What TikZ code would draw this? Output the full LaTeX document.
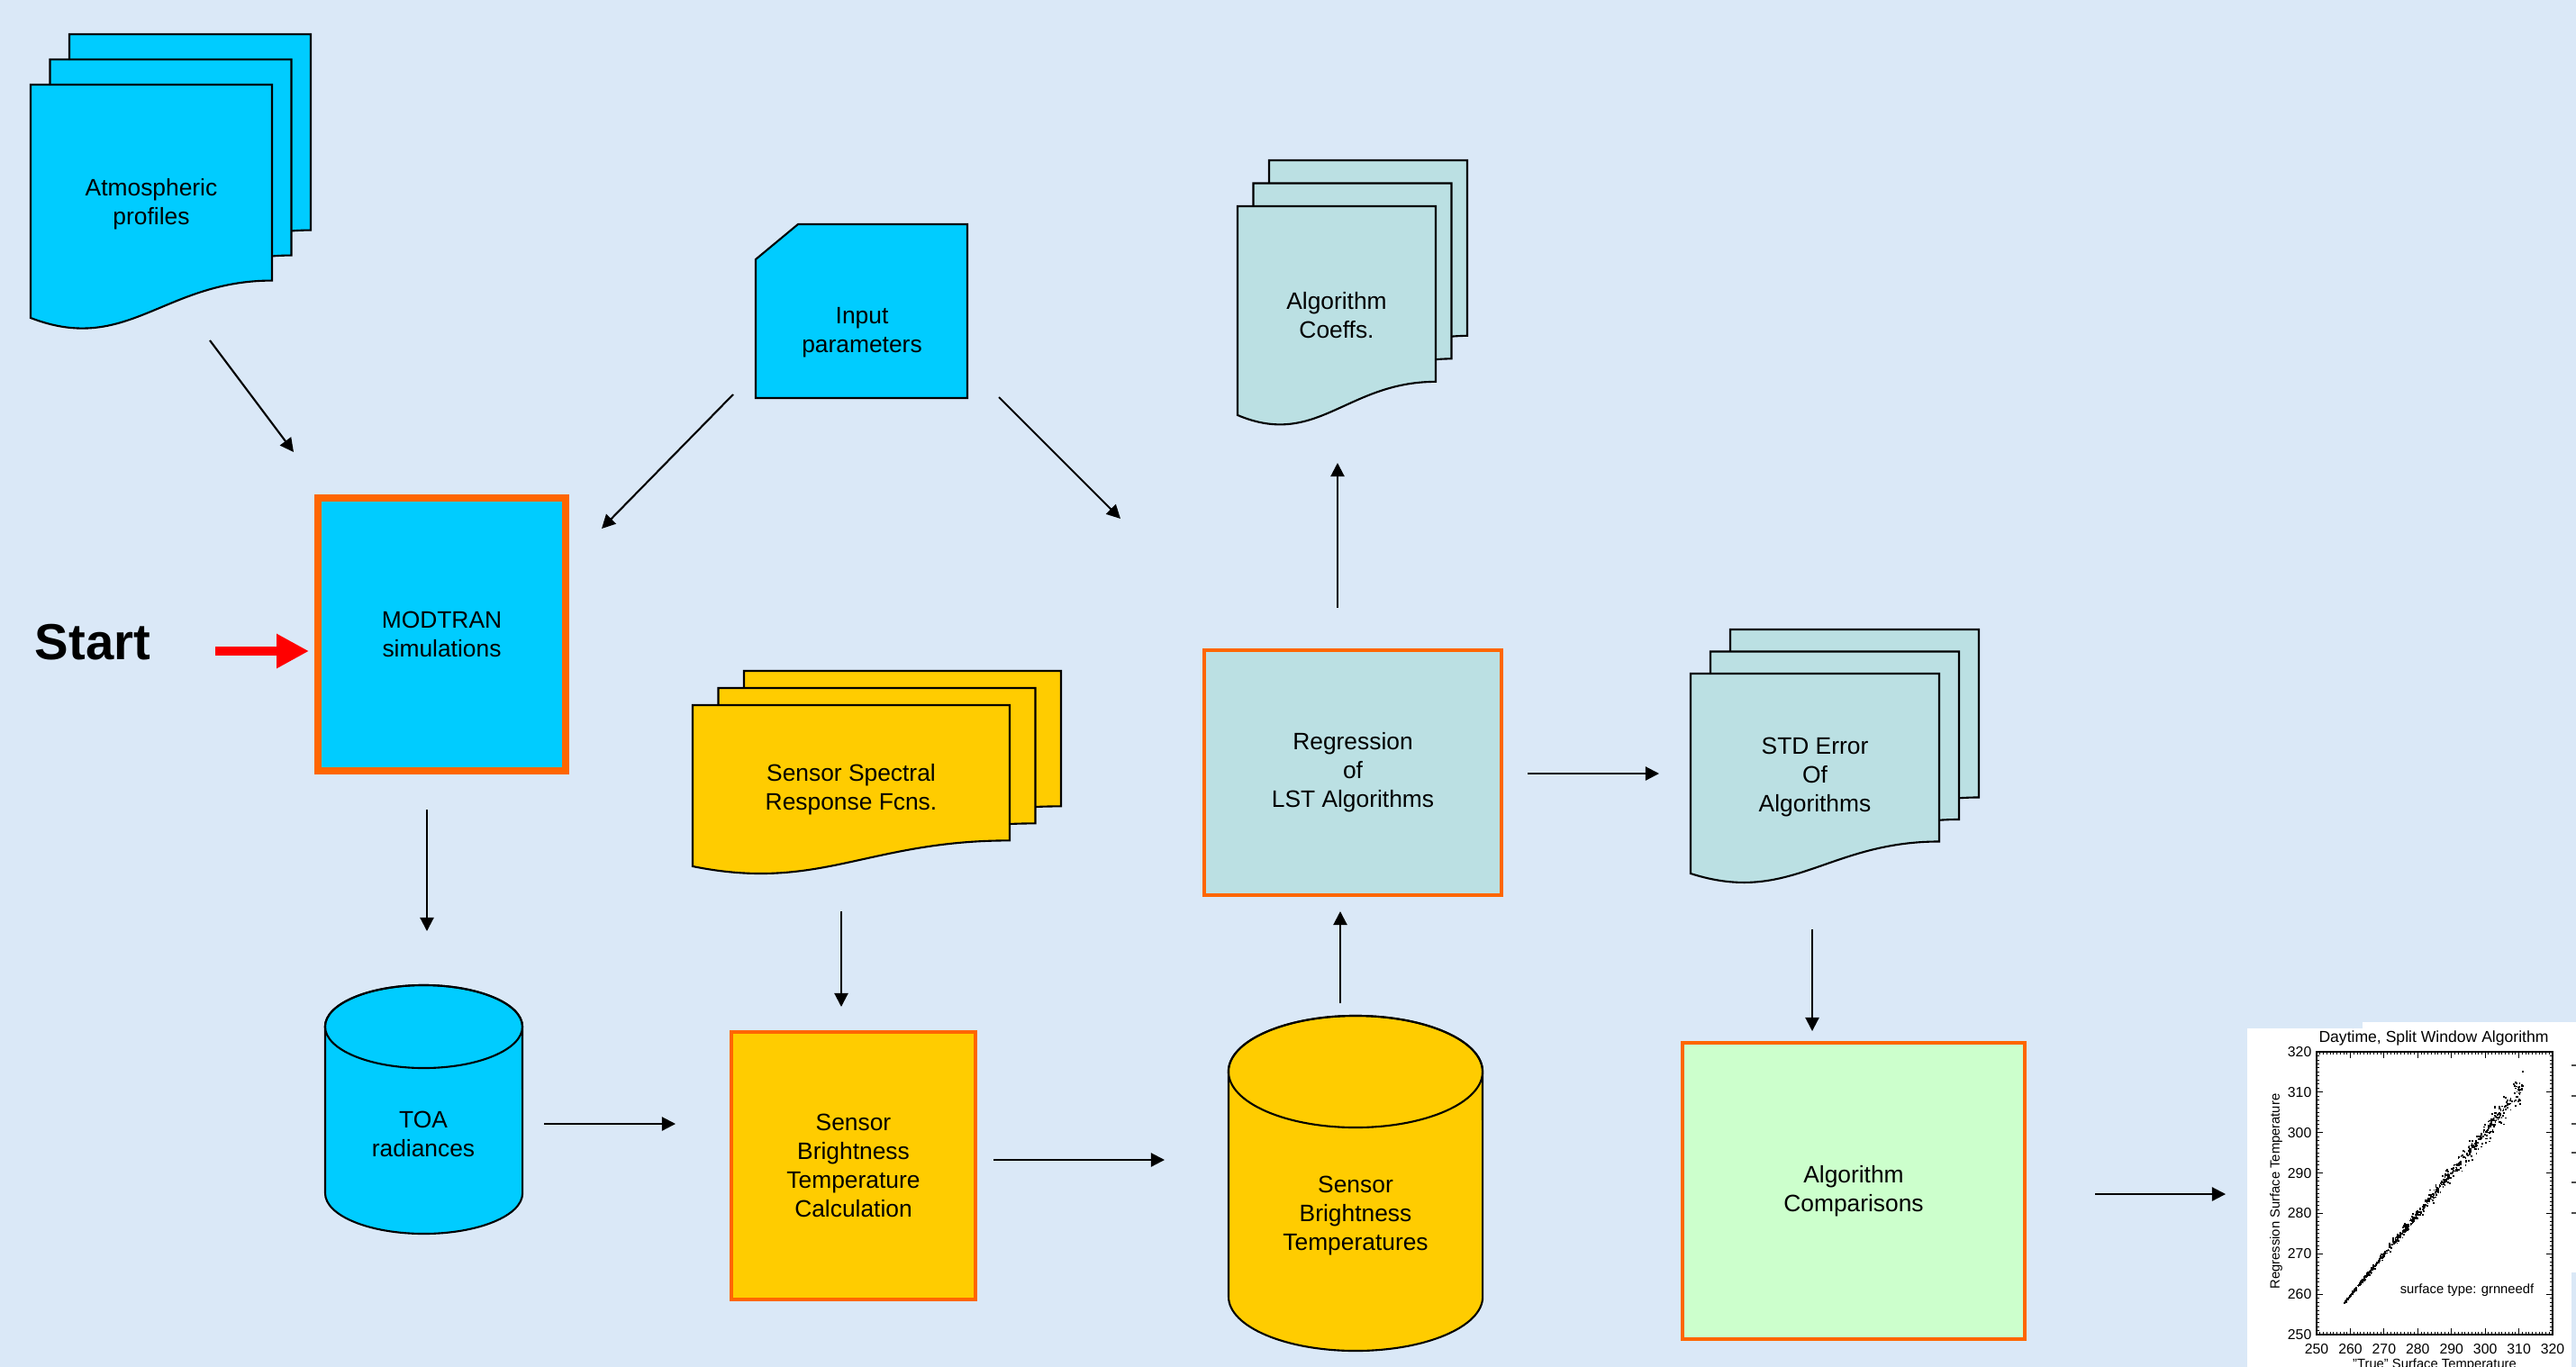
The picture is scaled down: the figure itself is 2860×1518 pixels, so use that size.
\documentclass[tikz,border=0pt]{standalone}
\usepackage{fontspec}
\setmainfont{Liberation Sans}
\usetikzlibrary{arrows.meta,calc}
\definecolor{bgblue}{RGB}{218,232,247}
\definecolor{cyanfill}{RGB}{0,204,255}
\definecolor{yellowfill}{RGB}{255,204,0}
\definecolor{tealfill}{RGB}{187,224,227}
\definecolor{greenfill}{RGB}{204,255,204}
\definecolor{orangeline}{RGB}{255,102,0}
\definecolor{startred}{RGB}{255,0,0}
\tikzset{
  sheetline/.style={draw=black, line width=0.6pt},
  txt/.style={align=center, font=\fontsize{7.5}{9.1}\selectfont, inner sep=0pt},
  procbox/.style={draw=orangeline, line width=1.2pt, align=center, inner sep=0pt,
                  font=\fontsize{7.5}{9.1}\selectfont},
  arr/.style={line width=0.6pt, -{Triangle[length=4.3pt,width=4.3pt]}},
  ticklab/.style={font=\fontsize{4.5}{5}\selectfont, inner sep=0pt},
  plottxt/.style={font=\fontsize{4.2}{5}\selectfont, inner sep=0pt}
}
\newcommand{\docsheet}[5]{%
  \filldraw[sheetline, fill=#5] (#1,#2) -- ({#1+#3},#2) -- ({#1+#3},{#2+0.84*#4})
    .. controls ({#1+0.55*#3},{#2+0.84*#4}) and ({#1+0.4*#3},{#2+1.16*#4}) .. (#1,{#2+#4}) -- cycle;}
\newcommand{\docstack}[7]{%
  \pgfmathsetmacro{\dsLb}{#1+2*(#5)}\pgfmathsetmacro{\dsTb}{#2+2*(#6)}%
  \pgfmathsetmacro{\dsLm}{#1+(#5)}\pgfmathsetmacro{\dsTm}{#2+(#6)}%
  \docsheet{\dsLb}{\dsTb}{#3}{#4}{#7}%
  \docsheet{\dsLm}{\dsTm}{#3}{#4}{#7}%
  \docsheet{#1}{#2}{#3}{#4}{#7}}
\begin{document}
\begin{tikzpicture}[x=0.01cm, y=-0.01cm]
\useasboundingbox (0,0) rectangle (2860,1518);
\clip (0,0) rectangle (2860,1518);
\fill[bgblue] (0,0) rectangle (2860,1518);

% ---- document stacks ----
\docstack{34}{94}{268}{259}{21.5}{-28}{cyanfill}
\node[txt] (atm) at (168,227) {Atmospheric\\profiles};

\docstack{1374}{229}{220}{232}{17.5}{-25.5}{tealfill}
\node[txt] (coef) at (1484,350) {Algorithm\\Coeffs.};

\docstack{769}{783}{352}{179}{28.5}{-19}{yellowfill}
\node[txt] (ssr) at (945,877) {Sensor Spectral\\Response Fcns.};

\docstack{1877}{748}{276}{222}{22}{-24.5}{tealfill}
\node[txt] (std) at (2015,863) {STD Error\\Of\\Algorithms};

% ---- manual input ----
\filldraw[sheetline, fill=cyanfill] (839,288) -- (886,249) -- (1074,249) -- (1074,442) -- (839,442) -- cycle;
\node[txt] (inp) at (957,369) {Input\\parameters};

% ---- process boxes ----
\node[procbox, line width=2.3pt, fill=cyanfill, minimum width=2.75cm, minimum height=3.03cm]
  (modtran) at (490.5,704.5) {MODTRAN\\simulations};
\node[procbox, fill=tealfill, minimum width=3.30cm, minimum height=2.72cm]
  (reg) at (1502,858) {Regression\\of\\LST Algorithms};
\node[procbox, fill=yellowfill, minimum width=2.71cm, minimum height=2.97cm]
  (sbtc) at (947.5,1294.5) {Sensor\\Brightness\\Temperature\\Calculation};
\node[procbox, fill=greenfill, minimum width=3.80cm, minimum height=3.29cm]
  (cmp) at (2058,1322.5) {Algorithm\\Comparisons};

% ---- cylinders ----
\filldraw[sheetline, fill=cyanfill] (361,1140) -- (361,1325)
  arc[start angle=180, end angle=360, x radius=1.095cm, y radius=0.45cm] -- (580,1140)
  arc[start angle=0, end angle=180, x radius=1.095cm, y radius=0.46cm] -- cycle;
\draw[sheetline] (470.5,1140) ellipse [x radius=1.095cm, y radius=0.46cm];
\node[txt] (toa) at (470,1259) {TOA\\radiances};

\filldraw[sheetline, fill=yellowfill] (1364,1190) -- (1364,1440)
  arc[start angle=180, end angle=360, x radius=1.41cm, y radius=0.60cm] -- (1646,1190)
  arc[start angle=0, end angle=180, x radius=1.41cm, y radius=0.62cm] -- cycle;
\draw[sheetline] (1505,1190) ellipse [x radius=1.41cm, y radius=0.62cm];
\node[txt] (sbt) at (1505,1350) {Sensor\\Brightness\\Temperatures};

% ---- Start ----
\node[font=\bfseries\fontsize{16}{19}\selectfont, inner sep=0pt] (start) at (103,713) {Start};
\draw[startred, line width=3.1pt, -{Triangle[length=10.2pt,width=10.2pt]}]
  ($(modtran)+(-251.5,18.5)$) -- ($(modtran)+(-147.5,18.5)$);

% ---- plot ----
\fill[white] (2623,1135) rectangle (2860,1413);
\foreach \yy in {1183,1217,1248,1280,1313,1347}
  \draw[line width=0.3pt, black!70] (2855,\yy) -- (2860,\yy);
\node[fill=white, inner sep=0pt, minimum width=3.6cm, minimum height=3.76cm] (plot) at (2675,1330) {};
\draw[line width=0.4pt] (2572,1168) rectangle (2834,1482);
\foreach \v in {0,...,70}{
  \pgfmathsetmacro{\tlen}{ifthenelse(mod(\v,10)==0,7,3)}
  \pgfmathsetmacro{\px}{2572+\v*3.743}
  \pgfmathsetmacro{\py}{1482-\v*4.486}
  \draw[line width=0.25pt] (\px,1482) -- (\px,{1482-\tlen});
  \draw[line width=0.25pt] (\px,1168) -- (\px,{1168+\tlen});
  \draw[line width=0.25pt] (2572,\py) -- ({2572+\tlen},\py);
  \draw[line width=0.25pt] (2834,\py) -- ({2834-\tlen},\py);
}
\foreach \v in {250,260,...,320}{
  \pgfmathsetmacro{\px}{2572+(\v-250)*3.743}
  \pgfmathsetmacro{\py}{1482-(\v-250)*4.486}
  \node[ticklab, anchor=east] at (2567,\py) {\v};
  \node[ticklab] at (\px,1498) {\v};
}
\node[font=\fontsize{5}{6}\selectfont, inner sep=0pt] at (2702,1153) {Daytime, Split Window Algorithm};
\node[plottxt, rotate=90] at (2527,1323) {Regression Surface Temperature};
\node[plottxt] at (2703,1516) {"True" Surface Temperature};
\node[plottxt] at (2739,1433) {surface type: grnneedf};
\pgfmathsetseed{12345}
\foreach \i in {1,...,700}{
  \pgfmathsetmacro{\ptx}{258+53*rnd}
  \pgfmathsetmacro{\scs}{0.25+0.08*(\ptx-258)}
  \pgfmathsetmacro{\pty}{\ptx+\scs*rand*rnd+0.3*\scs*rnd}
  \fill ({2572+(\ptx-250)*3.743},{1482-(\pty-250)*4.486}) rectangle ++(1.8,1.8);
}

% ---- connectors ----
\coordinate (inpend) at (1244,576);
\draw[arr] ($(atm)+(65,151)$) -- ($(modtran)+(-164.5,-202.5)$);
\draw[arr] ($(inp)+(-143,69)$) -- ($(modtran)+(177.5,-117.5)$);
\draw[arr] ($(inp)+(152,72)$) -- (inpend);
\draw[arr] ($(reg)+(-17,-183)$) -- ($(coef)+(1,164)$);
\draw[arr] ($(modtran)+(-16.5,194.5)$) -- ($(toa)+(4,-225)$);
\draw[arr] ($(toa)+(134,-11)$) -- ($(sbtc)+(-197.5,-46.5)$);
\draw[arr] ($(ssr)+(-11,135)$) -- ($(sbtc)+(-13.5,-176.5)$);
\draw[arr] ($(sbtc)+(155.5,-6.5)$) -- ($(sbt)+(-212,-62)$);
\draw[arr] ($(sbt)+(-17,-236)$) -- ($(reg)+(-14,154)$);
\draw[arr] ($(reg)+(194,1)$) -- ($(std)+(-173,-4)$);
\draw[arr] ($(std)+(-3,169)$) -- ($(cmp)+(-46,-177.5)$);
\draw[arr] ($(cmp)+(268,3.5)$) -- ($(plot)+(-204,-4)$);
\end{tikzpicture}
\end{document}
